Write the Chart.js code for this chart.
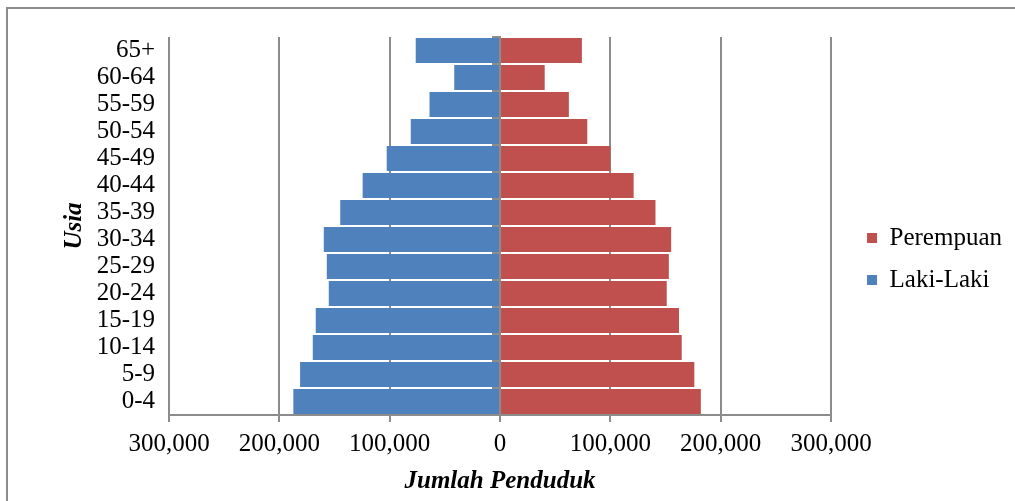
<!DOCTYPE html>
<html>
<head>
<meta charset="utf-8">
<script src="https://cdn.jsdelivr.net/npm/chart.js@4.4.1/dist/chart.umd.min.js"></script>
<style>
  html, body { margin: 0; padding: 0; background: #fff; overflow: hidden; }
  #frame { position: absolute; left: 6px; top: 7px; width: 1100px; height: 600px; border: 2px solid #8c8c8c; }
  #chartBox { position: absolute; left: 0; top: 0; width: 1015px; height: 501px; z-index: 1; }
</style>
</head>
<body>
<div id="frame"></div>
<div id="chartBox"><canvas id="piramida" width="1015" height="501"></canvas></div>
<script>
// kelompok usia, dari bawah (0-4) ke atas (65+)
const kelompokUsia = ['0-4', '5-9', '10-14', '15-19', '20-24', '25-29', '30-34',
                      '35-39', '40-44', '45-49', '50-54', '55-59', '60-64', '65+'];

// jumlah penduduk per kelompok usia
const lakiLaki  = [187300, 181200, 169700, 167000, 155200, 157000, 159700,
                   144800, 124500, 102700, 80900, 63900, 41500, 76400];
const perempuan = [182000, 176100, 164700, 162200, 151100, 153000, 155100,
                   140900, 121100, 100100, 79100, 62400, 40500, 74200];

// sumbu x
const xMin = -300000;
const xMax = 300000;
const xStep = 100000;

const warnaGrid = '#8c8c8c';
const hurufSerif = "'Liberation Serif', 'Times New Roman', serif";

Chart.defaults.font.family = hurufSerif;
Chart.defaults.font.size = 25;
Chart.defaults.color = '#000';

var ctx = document.getElementById('piramida');

var dataPiramida = {
  labels: kelompokUsia,
  datasets: [{
    label: 'Perempuan',
    backgroundColor: '#C0504D',
    borderWidth: 0,
    data: perempuan
  }, {
    label: 'Laki-Laki',
    backgroundColor: '#4F81BD',
    borderWidth: 0,
    // sisi kiri digambar negatif
    data: lakiLaki.map(function(v) { return -v; })
  }]
};

var configPiramida = {
  type: 'bar',
  data: dataPiramida,
  options: {
    indexAxis: 'y',
    responsive: false,
    animation: false,
    devicePixelRatio: 1,
    categoryPercentage: 0.93,
    barPercentage: 1,
    layout: { padding: { top: 17, right: 3, bottom: 0, left: 0 } },
    plugins: {
      legend: {
        position: 'right',
        maxWidth: 220,
        labels: { boxWidth: 10, boxHeight: 10, padding: 17, color: '#000', font: { size: 25 } }
      },
      tooltip: { enabled: false }
    },
    scales: {
      x: {
        type: 'linear',
        stacked: true,
        min: xMin,
        max: xMax,
        ticks: {
          stepSize: xStep,
          padding: 7,
          callback: function(v) { return Math.abs(v).toLocaleString('en-US'); }
        },
        grid: { color: warnaGrid, lineWidth: 2, tickLength: 7 },
        border: { color: warnaGrid, width: 2, z: 1 },
        title: {
          display: true,
          text: 'Jumlah Penduduk',
          font: { size: 25, style: 'italic', weight: 'bold' },
          padding: { top: 0, bottom: 4 }
        },
        afterFit: function(s) { s.height = 86; }
      },
      xAtas: {
        type: 'linear',
        axis: 'x',
        position: 'top',
        grid: { display: false },
        ticks: { display: false },
        border: { display: false },
        afterFit: function(s) { s.height = 20; }
      },
      y: {
        type: 'category',
        stacked: true,
        reverse: true,
        offset: true,
        grid: { display: false, drawTicks: false, offset: true },
        border: { display: false },
        ticks: { padding: 14, autoSkip: false },
        title: {
          display: true,
          text: 'Usia',
          font: { size: 25, style: 'italic', weight: 'bold' },
          padding: { top: 60, bottom: 0 }
        },
        afterFit: function(s) { s.width = 169; }
      },
      yNol: {
        // garis sumbu tegak di nilai 0
        type: 'category',
        axis: 'y',
        position: { x: 0 },
        reverse: true,
        offset: true,
        ticks: { display: false, autoSkip: false },
        grid: { drawOnChartArea: false, offset: true, tickLength: 7, color: warnaGrid, lineWidth: 2, z: 1 },
        border: { display: true, color: warnaGrid, width: 2, z: 1 }
      },
      yJarak: {
        type: 'category',
        axis: 'y',
        position: 'right',
        grid: { display: false },
        ticks: { display: false },
        border: { display: false },
        afterFit: function(s) { s.width = 19; }
      }
    }
  }
};

var piramidaChart = new Chart(ctx, configPiramida);
</script>
</body>
</html>
